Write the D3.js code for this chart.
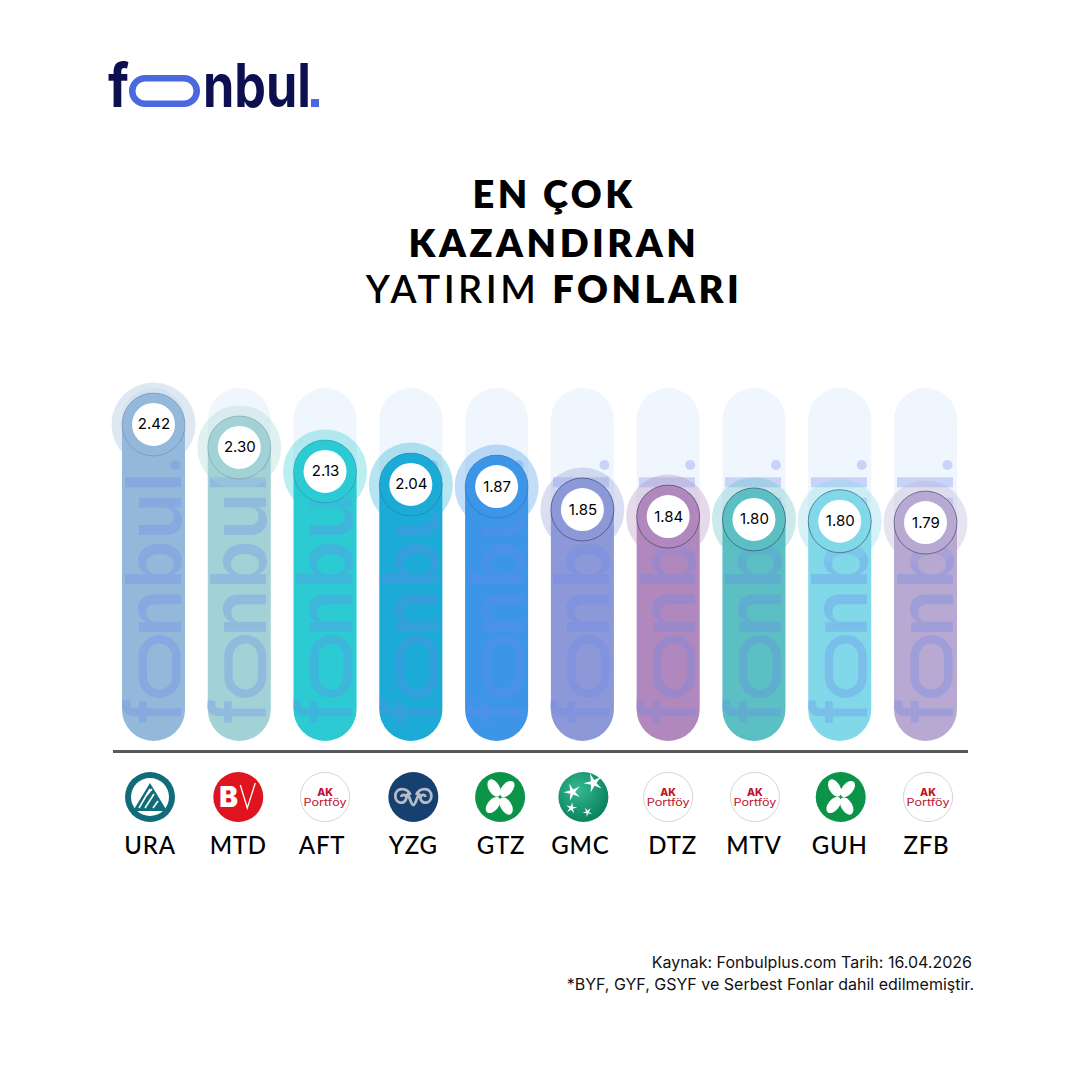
<!DOCTYPE html>
<html>
<head>
<meta charset="utf-8">
<script src="https://d3js.org/d3.v7.min.js"></script>
<style>
  html, body { margin: 0; padding: 0; background: #fff; }
  svg { display: block; }
  text { font-family: "Lato", sans-serif; }
</style>
</head>
<body>
<div id="chart"></div>
<script>
// data
var tickers = ["URA", "MTD", "AFT", "YZG", "GTZ", "GMC", "DTZ", "MTV", "GUH", "ZFB"];
var returns = [2.42, 2.30, 2.13, 2.04, 1.87, 1.85, 1.84, 1.80, 1.80, 1.79];
// the poster's bars are not proportional to the returns, so fill level is its own series (% of track)
var fillLevels = [98.6, 92.1, 85.3, 81.6, 81.0, 74.5, 72.5, 71.7, 71.2, 70.8];
var barColors = ["#94b8d9", "#a3d2d6", "#2ccad3", "#1babd6", "#3d95e8", "#8c98d8", "#b188bd", "#5bbfc3", "#80d8e8", "#b7a9d1"];
var issuers = ["ura", "bv", "ak", "koc", "garanti", "bnp", "ak", "ak", "garanti", "ak"];
var titleLines = [[["EN ÇOK", 800]], [["KAZANDIRAN", 800]], [["YATIRIM ", 600], ["FONLARI", 800]]];
var sourceLines = ["Kaynak: Fonbulplus.com Tarih: 16.04.2026", "*BYF, GYF, GSYF ve Serbest Fonlar dahil edilmemiştir."];

// the icons and labels under the axis are a bit off the bar centres in the original
var iconNudge = [-3.5, -1, 0, 2.5, 3.5, 1, 0, 1, 1, 2.5];
var labelNudge = [-3.5, -1, -3, 2.5, 4.5, -2, 4.5, 0, 0, 1];

var svg = d3.select("#chart").append("svg").attr("width", 1080).attr("height", 1080);

var x = d3.scalePoint().domain(d3.range(tickers.length)).range([153.5, 925.5]);
var y = d3.scaleLinear().domain([0, 100]).range([741, 388]);
var barW = 63;
var r = barW / 2;

// capsule, top follows the level
function capsule(i, level) {
  var cx = x(i), top = y(level), bot = y(0);
  return "M" + (cx - r) + "," + (top + r) + "A" + r + "," + r + " 0 0 1 " + (cx + r) + "," + (top + r) +
    "L" + (cx + r) + "," + (bot - r) + "A" + r + "," + r + " 0 0 1 " + (cx - r) + "," + (bot - r) + "Z";
}

// wordmark is real text with the stadium shaped "o" drawn as a rect
function wordmark(g, o) {
  o.glyphs.forEach(function(d) {
    g.append("text").attr("x", d[1]).attr("y", 0).text(d[0])
      .attr("textLength", d[2]).attr("lengthAdjust", "spacingAndGlyphs")
      .style("font-family", "Inter").style("font-size", o.size + "px").style("font-weight", o.weight)
      .attr("fill", o.color);
  });
  g.append("rect").attr("x", o.stadium[0] + o.sw / 2).attr("y", -o.stadium[2] + o.sw / 2)
    .attr("width", o.stadium[1] - o.stadium[0] - o.sw).attr("height", o.stadium[2] - o.sw)
    .attr("rx", (o.stadium[2] - o.sw) / 2)
    .attr("fill", "none").attr("stroke", o.ring).attr("stroke-width", o.sw);
  if (o.square) {
    g.append("rect").attr("x", o.dot[0]).attr("y", -o.dot[1]).attr("width", o.dot[1]).attr("height", o.dot[1]).attr("fill", o.dotColor);
  } else {
    g.append("circle").attr("cx", o.dot[0] + o.dot[1] / 2).attr("cy", -o.dot[2]).attr("r", o.dot[1] / 2).attr("fill", o.dotColor);
  }
}

// top logo
wordmark(svg.append("g").attr("transform", "translate(108,107)"), {
  glyphs: [["f", 0, 21], ["nbul", 95, 108]],
  size: 60, weight: 700, color: "#0d1050",
  stadium: [21, 92, 32], sw: 6.5, ring: "#4a68e0",
  dot: [203, 8], square: true, dotColor: "#4a68e0"
});

// title
var title = svg.append("g");
titleLines.forEach(function(parts, i) {
  var t = title.append("text").attr("x", 554).attr("y", [208, 257, 303][i])
    .attr("text-anchor", "middle").attr("fill", "#000")
    .style("font-size", "38px").style("letter-spacing", "3.5px");
  parts.forEach(function(p) {
    t.append("tspan").text(p[0]).style("font-weight", p[1]).attr("xml:space", "preserve");
  });
});

var bars = svg.selectAll("g.bar").data(tickers).join("g").attr("class", "bar");

bars.append("path").attr("d", function(d, i) { return capsule(i, 100); }).attr("fill", "#f0f6fd");
bars.append("path").attr("d", function(d, i) { return capsule(i, fillLevels[i]); }).attr("fill", function(d, i) { return barColors[i]; });

bars.each(function(d, i) {
  var g = d3.select(this).append("g").attr("opacity", 0.3)
    .attr("transform", "translate(" + (x(i) + 27) + "," + y(0) + ") rotate(-90)");
  wordmark(g, {
    glyphs: [["f", 18, 24], ["nbul", 104, 165]],
    size: 77, weight: 600, color: "#6a88ee",
    stadium: [43, 106, 42], sw: 8.5, ring: "#6a88ee",
    dot: [271, 10, 5], square: false, dotColor: "#6a88ee"
  });
});

// value badge at the top of each bar
function badgeY(i) { return y(fillLevels[i]) + r; }
bars.append("circle").attr("cx", function(d, i) { return x(i); }).attr("cy", function(d, i) { return badgeY(i); })
  .attr("r", 42).attr("fill", function(d, i) { return barColors[i]; }).attr("opacity", 0.32);
bars.append("circle").attr("cx", function(d, i) { return x(i); }).attr("cy", function(d, i) { return badgeY(i); })
  .attr("r", r).attr("fill", function(d, i) { return barColors[i]; })
  .attr("stroke", "#1a1a3a").attr("stroke-width", 0.7).attr("stroke-opacity", function(d, i) { return i < 5 ? 0.25 : 0.65; });
bars.append("circle").attr("cx", function(d, i) { return x(i); }).attr("cy", function(d, i) { return badgeY(i); })
  .attr("r", 21.5).attr("fill", "#fff");
bars.append("text").attr("x", function(d, i) { return x(i) + 0.5; }).attr("y", function(d, i) { return badgeY(i) + 5; })
  .attr("text-anchor", "middle").attr("fill", "#000")
  .style("font-family", "Inter").style("font-size", "15px").style("font-weight", 400)
  .text(function(d, i) { return returns[i].toFixed(2); });

// baseline
svg.append("line").attr("x1", 113).attr("x2", 968).attr("y1", 751.5).attr("y2", 751.5)
  .attr("stroke", "#58595b").attr("stroke-width", 3.2);

// issuer icons, drawn around 0,0 with radius 25
var icon = {
  ura: function(g) {
    g.append("circle").attr("r", 25).attr("fill", "#0f6c78");
    g.append("circle").attr("r", 19).attr("fill", "#fff");
    g.append("path").attr("d", "M0,-14 L17,14 L-17,14 Z").attr("fill", "#0f6c78");
    g.append("path").attr("d", "M0,-8 L-11,11 M4,-3 L-5,11 M8,4 L3,11 M-3,-2 L2,-8")
      .attr("stroke", "#fff").attr("stroke-width", 1.6).attr("fill", "none");
  },
  bv: function(g) {
    g.append("circle").attr("r", 25).attr("fill", "#e0141f");
    g.append("text").attr("x", -19).attr("y", 10).text("B").attr("fill", "#fff")
      .style("font-family", "Inter").style("font-size", "28px").style("font-weight", 900);
    g.append("path").attr("d", "M2,-12 L9,11 L17,-14").attr("fill", "none").attr("stroke", "#fff").attr("stroke-width", 1.3);
  },
  ak: function(g) {
    g.append("circle").attr("r", 24.6).attr("fill", "#fff").attr("stroke", "#c9c9c9").attr("stroke-width", 0.8);
    var t = g.append("text").attr("text-anchor", "middle").attr("fill", "#c0132c").style("font-family", "Inter");
    t.append("tspan").attr("x", 0).attr("y", -1).text("AK").style("font-size", "10.5px").style("font-weight", 800);
    t.append("tspan").attr("x", 0).attr("y", 8.5).text("Portföy").attr("textLength", 43).attr("lengthAdjust", "spacingAndGlyphs")
      .style("font-size", "10.5px").style("font-weight", 400);
  },
  koc: function(g) {
    g.append("circle").attr("r", 25).attr("fill", "#15406f");
    g.append("path").attr("d", "M-3,-2 C-6,-10 -18,-10 -18,-1 C-18,7 -8,8 -7,1 C-7,-3 -12,-3 -12,0 M3,-2 C6,-10 18,-10 18,-1 C18,7 8,8 7,1 C7,-3 12,-3 12,0 M-6,-4 C-3,2 -2,8 0,8 C2,8 3,2 6,-4")
      .attr("fill", "none").attr("stroke", "#b5bcc8").attr("stroke-width", 2.8);
  },
  garanti: function(g) {
    g.append("circle").attr("r", 25).attr("fill", "#0b9448");
    [[-6, -9, -30], [7, -8, 40], [-7, 8, 40], [6, 9, -30]].forEach(function(p) {
      g.append("ellipse").attr("cx", p[0]).attr("cy", p[1]).attr("rx", 5.5).attr("ry", 9.5)
        .attr("transform", "rotate(" + p[2] + " " + p[0] + " " + p[1] + ")").attr("fill", "#fff");
    });
  },
  bnp: function(g) {
    g.append("circle").attr("r", 25).attr("fill", "url(#bnpGreen)");
    [[-11, -5, 9, -20], [10, -14, 10, -20], [-12, 11, 6, 10], [4, 15, 5, -30]].forEach(function(p) {
      var pts = d3.range(10).map(function(k) {
        var a = k * Math.PI / 5 - Math.PI / 2, rr = k % 2 ? p[2] * 0.3 : p[2];
        return [rr * Math.cos(a), rr * Math.sin(a)];
      });
      g.append("polygon").attr("points", pts.join(" ")).attr("fill", "#fff")
        .attr("transform", "translate(" + p[0] + "," + p[1] + ") rotate(" + p[3] + ")");
    });
  }
};

var grad = svg.append("defs").append("radialGradient").attr("id", "bnpGreen").attr("cx", "40%").attr("cy", "35%").attr("r", "75%");
grad.append("stop").attr("offset", "0%").attr("stop-color", "#35b98f");
grad.append("stop").attr("offset", "100%").attr("stop-color", "#047a56");

tickers.forEach(function(t, i) {
  var g = svg.append("g").attr("transform", "translate(" + (x(i) + iconNudge[i]) + ",797)");
  icon[issuers[i]](g);
  svg.append("text").attr("x", x(i) + labelNudge[i]).attr("y", 854).attr("text-anchor", "middle").text(t)
    .attr("fill", "#000").style("font-size", "24px").style("font-weight", 500).style("letter-spacing", "0.8px");
});

// source note
sourceLines.forEach(function(s, i) {
  svg.append("text").attr("x", [972, 974][i]).attr("y", [968, 990][i]).attr("text-anchor", "end").text(s)
    .attr("fill", "#111").style("font-family", "Inter").style("font-size", "16px");
});
</script>
</body>
</html>
